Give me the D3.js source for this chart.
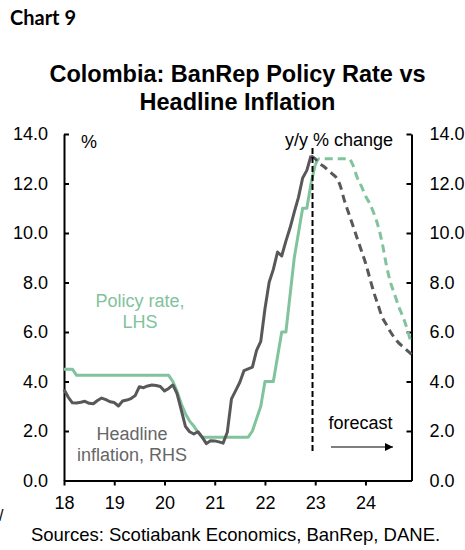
<!DOCTYPE html>
<html>
<head>
<meta charset="utf-8">
<script src="https://cdn.jsdelivr.net/npm/d3@7"></script>
<style>
  html, body { margin: 0; padding: 0; background: #fff; }
  svg { display: block; }
  text { font-family: "Liberation Sans", Arial, sans-serif; }
</style>
</head>
<body>
<svg id="chart" width="465" height="550"></svg>
<script>
// Months are counted from January 2018 (index 0).
const yearTicks = [0, 12, 24, 36, 48, 60, 72];
const yearLabels = ["18", "19", "20", "21", "22", "23", "24"];
const yTicks = [0, 2, 4, 6, 8, 10, 12, 14];

// BanRep policy rate, %, monthly from Jan 2018 to Jan 2023
const policyStart = 0;
const policyRate = [
  4.5, 4.5, 4.5,
  4.25, 4.25, 4.25, 4.25, 4.25, 4.25, 4.25, 4.25, 4.25,
  4.25, 4.25, 4.25, 4.25, 4.25, 4.25, 4.25, 4.25, 4.25, 4.25, 4.25, 4.25,
  4.25, 4.25,
  4.0, 3.6, 3.1, 2.7, 2.4, 2.2, 1.95,
  1.75, 1.75, 1.75, 1.75, 1.75, 1.75, 1.75, 1.75, 1.75, 1.75, 1.75, 1.75,
  2.0, 2.5, 3.0, 4.0, 4.0, 4.0, 5.0, 6.0, 6.0, 7.5, 9.0, 10.0, 11.0, 11.0, 12.0, 12.75
];
// Policy rate forecast, Jan 2023 to Dec 2024
const policyForecastStart = 60;
const policyForecast = [
  12.75, 13.0, 13.0, 13.0, 13.0, 13.0, 13.0, 13.0, 13.0,
  12.75, 12.25, 11.9, 11.5, 11.2, 10.8, 10.3, 9.6, 8.7, 8.0, 7.5, 7.0, 6.6, 6.1, 5.5
];

// Headline CPI inflation, y/y %, Jan 2018 to Dec 2022
const inflationStart = 0;
const inflation = [
  3.68, 3.37, 3.14, 3.13, 3.16, 3.20, 3.12, 3.10, 3.23, 3.33, 3.27, 3.18,
  3.15, 3.01, 3.21, 3.25, 3.31, 3.43, 3.79, 3.75, 3.82, 3.86, 3.84, 3.80,
  3.62, 3.72, 3.86, 3.51, 2.85, 2.19, 1.97, 1.88, 1.97, 1.75, 1.49, 1.61,
  1.60, 1.56, 1.51, 1.95, 3.30, 3.63, 3.97, 4.44, 4.51, 4.58, 5.26, 5.62,
  6.94, 8.01, 8.53, 9.23, 9.07, 9.67, 10.21, 10.84, 11.44, 12.22, 12.53, 13.12
];
// Inflation forecast, Dec 2022 to Dec 2024
const inflationForecastStart = 59;
const inflationForecast = [
  13.12, 13.0, 12.8, 12.7, 12.55, 12.4, 12.25, 11.9, 11.3, 10.8, 10.3, 9.8,
  9.3, 8.8, 8.2, 7.6, 7.1, 6.6, 6.3, 6.0, 5.75, 5.55, 5.4, 5.25, 5.1
];

// Month where the forecast begins
const forecastMarker = 59;

const GREEN = "#80c39c";
const GREY = "#58585a";

const svg = d3.select("#chart");
const plot = { left: 64, right: 411.5, top: 134, bottom: 480.5 };

const x = d3.scaleLinear().domain([0, 83]).range([plot.left, plot.right]);
const yL = d3.scaleLinear().domain([0, 14]).range([plot.bottom, plot.top]);
const yR = d3.scaleLinear().domain([0, 14]).range([plot.bottom, plot.top]);

// Titles
svg.append("text").attr("x", 10).attr("y", 25)
  .style("font-family", "Lato, 'Open Sans', sans-serif")
  .style("font-weight", "bold").style("font-size", "20px")
  .text("Chart 9");
svg.append("text").attr("x", 237.5).attr("y", 82).attr("text-anchor", "middle")
  .style("font-weight", "bold").style("font-size", "23.5px")
  .text("Colombia: BanRep Policy Rate vs");
svg.append("text").attr("x", 237.5).attr("y", 110).attr("text-anchor", "middle")
  .style("font-weight", "bold").style("font-size", "23.5px")
  .text("Headline Inflation");

// Axes
const fmt = d3.format(".1f");
const leftAxis = d3.axisLeft(yL).tickValues(yTicks).tickFormat(fmt).tickSizeInner(-5).tickSizeOuter(0).tickPadding(16);
const rightAxis = d3.axisRight(yR).tickValues(yTicks).tickFormat(fmt).tickSizeInner(-5).tickSizeOuter(0).tickPadding(18);
const bottomAxis = d3.axisBottom(x).tickValues(yearTicks)
  .tickFormat((d, i) => yearLabels[i]).tickSizeInner(5).tickSizeOuter(0).tickPadding(8);

function styleAxis(g) {
  g.select(".domain").attr("stroke", "#000").attr("stroke-width", 2);
  g.selectAll(".tick line").attr("stroke", "#000").attr("stroke-width", 2);
  g.selectAll(".tick text").attr("fill", "#000").style("font-size", "18px")
    .style("font-family", "'Liberation Sans', Arial, sans-serif");
}
svg.append("g").attr("transform", `translate(${plot.left},0)`).call(leftAxis).call(styleAxis);
svg.append("g").attr("transform", `translate(${plot.right},0)`).call(rightAxis).call(styleAxis);
svg.append("g").attr("transform", `translate(0,${plot.bottom})`).call(bottomAxis).call(styleAxis)
  .call(g => g.selectAll(".tick text").attr("dy", "0.85em"));

// Series lines
const toPoints = (vals, start) => vals.map((v, i) => [start + i, v]);
const lineL = d3.line().x(d => x(d[0])).y(d => yL(d[1]));
const lineR = d3.line().x(d => x(d[0])).y(d => yR(d[1]));
const lineSmoothR = d3.line().curve(d3.curveMonotoneX).x(d => x(d[0])).y(d => yR(d[1]));
const lineSmoothL = d3.line().curve(d3.curveMonotoneX).x(d => x(d[0])).y(d => yL(d[1]));

svg.append("path").datum(toPoints(policyRate, policyStart))
  .attr("d", lineL).attr("fill", "none").attr("stroke", GREEN)
  .attr("stroke-width", 3).attr("stroke-linejoin", "round");
svg.append("path").datum(toPoints(policyForecast, policyForecastStart))
  .attr("d", lineSmoothL).attr("fill", "none").attr("stroke", GREEN)
  .attr("stroke-width", 3).attr("stroke-dasharray", "8,5");

svg.append("path").datum(toPoints(inflation, inflationStart))
  .attr("d", lineR).attr("fill", "none").attr("stroke", GREY)
  .attr("stroke-width", 3).attr("stroke-linejoin", "round");
svg.append("path").datum(toPoints(inflationForecast, inflationForecastStart))
  .attr("d", lineSmoothR).attr("fill", "none").attr("stroke", GREY)
  .attr("stroke-width", 3).attr("stroke-dasharray", "8,5");

// Forecast divider
svg.append("line")
  .attr("x1", x(forecastMarker) + 1.5).attr("x2", x(forecastMarker) + 1.5)
  .attr("y1", 148).attr("y2", 454)
  .attr("stroke", "#000").attr("stroke-width", 2).attr("stroke-dasharray", "6,3");

// Axis units
svg.append("text").attr("x", 81).attr("y", 148).style("font-size", "18px").text("%");
svg.append("text").attr("x", 393).attr("y", 146).attr("text-anchor", "end")
  .style("font-size", "18px").text("y/y % change");

// Series labels
svg.append("text").attr("x", 140).attr("y", 307).attr("text-anchor", "middle")
  .attr("fill", GREEN).style("font-size", "18px").text("Policy rate,");
svg.append("text").attr("x", 140).attr("y", 328).attr("text-anchor", "middle")
  .attr("fill", GREEN).style("font-size", "18px").text("LHS");
svg.append("text").attr("x", 132).attr("y", 440).attr("text-anchor", "middle")
  .attr("fill", "#666").style("font-size", "18px").text("Headline");
svg.append("text").attr("x", 132).attr("y", 461).attr("text-anchor", "middle")
  .attr("fill", "#666").style("font-size", "18px").text("inflation, RHS");

// Forecast arrow
svg.append("defs").append("marker").attr("id", "arrow")
  .attr("viewBox", "0 0 10 10").attr("refX", 10).attr("refY", 5)
  .attr("markerWidth", 10).attr("markerHeight", 8).attr("markerUnits", "userSpaceOnUse")
  .attr("orient", "auto")
  .append("path").attr("d", "M0,0L10,5L0,10Z").attr("fill", "#000");
svg.append("text").attr("x", 360.5).attr("y", 429).attr("text-anchor", "middle")
  .style("font-size", "18px").text("forecast");
svg.append("line").attr("x1", 331).attr("x2", 393).attr("y1", 447).attr("y2", 447)
  .attr("stroke", "#000").attr("stroke-width", 1.2).attr("marker-end", "url(#arrow)");

// Source note
svg.append("text").attr("x", 235.5).attr("y", 541).attr("text-anchor", "middle")
  .style("font-size", "18.5px").text("Sources: Scotiabank Economics, BanRep, DANE.");
svg.append("text").attr("x", -1).attr("y", 521).style("font-size", "16px").text("/");
</script>
</body>
</html>
